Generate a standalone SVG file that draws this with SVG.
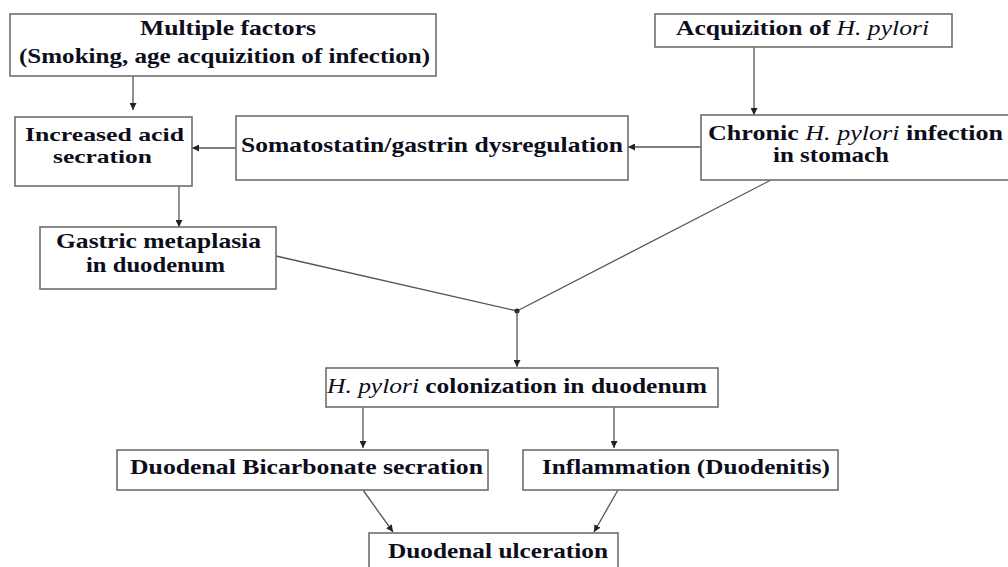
<svg xmlns="http://www.w3.org/2000/svg" width="1008" height="567" viewBox="0 0 1008 567">
<defs>
<marker id="ah" viewBox="0 0 8 8" refX="8" refY="4" markerWidth="7" markerHeight="7" markerUnits="userSpaceOnUse" orient="auto">
<path d="M0,0 L8,4 L0,8 Z" fill="#222"/>
</marker>
<style>
.box{fill:#fff;stroke:#6e6e6e;stroke-width:1.6}
.t{font-family:"Liberation Serif","Times New Roman",serif;font-size:21px;font-weight:bold;fill:#0d0d1c}
.s{font-size:19px}
.i{font-style:italic;font-weight:normal}
.c{fill:none;stroke:#555;stroke-width:1.3}
.ca{fill:none;stroke:#555;stroke-width:1.3;marker-end:url(#ah)}
</style>
</defs>
<rect width="1008" height="567" fill="#fff"/>
<g id="connectors">
<line class="ca" x1="133" y1="76" x2="133" y2="110"/>
<line class="ca" x1="236" y1="148" x2="192" y2="148"/>
<line class="ca" x1="754" y1="47" x2="754" y2="115"/>
<line class="ca" x1="701" y1="147" x2="628" y2="147"/>
<line class="ca" x1="179" y1="186" x2="179" y2="227"/>
<line class="c" x1="276" y1="256" x2="517" y2="311"/>
<line class="c" x1="771" y1="180" x2="517" y2="311"/>
<circle cx="517" cy="311" r="2.5" fill="#222"/>
<line class="ca" x1="517" y1="311" x2="517" y2="367"/>
<line class="ca" x1="363" y1="407" x2="363" y2="448"/>
<line class="ca" x1="614" y1="407" x2="614" y2="448"/>
<line class="ca" x1="363" y1="490" x2="393" y2="532"/>
<line class="ca" x1="618" y1="490" x2="594" y2="532"/>
</g>
<g id="multiple-factors">
<rect class="box" x="10" y="14" width="426" height="62"/>
<text class="t" x="140" y="35" textLength="176" lengthAdjust="spacingAndGlyphs">Multiple factors</text>
<text class="t" x="19" y="63" textLength="411" lengthAdjust="spacingAndGlyphs">(Smoking, age acquizition of infection)</text>
</g>
<g id="increased-acid">
<rect class="box" x="15" y="117" width="177" height="69"/>
<text class="t s" x="25" y="141" textLength="159" lengthAdjust="spacingAndGlyphs">Increased acid</text>
<text class="t s" x="53" y="163" textLength="99" lengthAdjust="spacingAndGlyphs">secration</text>
</g>
<g id="somatostatin">
<rect class="box" x="236" y="116" width="392" height="64"/>
<text class="t" x="241" y="152" textLength="382" lengthAdjust="spacingAndGlyphs">Somatostatin/gastrin dysregulation</text>
</g>
<g id="acquizition">
<rect class="box" x="655" y="14" width="297" height="33"/>
<text class="t" x="676" y="35" textLength="253" lengthAdjust="spacingAndGlyphs">Acquizition of <tspan class="i">H. pylori</tspan></text>
</g>
<g id="chronic">
<rect class="box" x="701" y="115" width="320" height="65"/>
<text class="t" x="708" y="140" textLength="295" lengthAdjust="spacingAndGlyphs">Chronic <tspan class="i">H. pylori</tspan> infection</text>
<text class="t" x="773" y="162" textLength="116" lengthAdjust="spacingAndGlyphs">in stomach</text>
</g>
<g id="gastric-metaplasia">
<rect class="box" x="40" y="227" width="236" height="62"/>
<text class="t" x="56" y="248" textLength="205" lengthAdjust="spacingAndGlyphs">Gastric metaplasia</text>
<text class="t" x="86" y="272" textLength="139" lengthAdjust="spacingAndGlyphs">in duodenum</text>
</g>
<g id="colonization">
<rect class="box" x="326" y="368" width="392" height="39"/>
<text class="t" x="327" y="393" textLength="380" lengthAdjust="spacingAndGlyphs"><tspan class="i">H. pylori</tspan> colonization in duodenum</text>
</g>
<g id="bicarbonate">
<rect class="box" x="117" y="450" width="371" height="40"/>
<text class="t" x="130" y="474" textLength="353" lengthAdjust="spacingAndGlyphs">Duodenal Bicarbonate secration</text>
</g>
<g id="inflammation">
<rect class="box" x="523" y="450" width="315" height="40"/>
<text class="t" x="542" y="474" textLength="288" lengthAdjust="spacingAndGlyphs">Inflammation (Duodenitis)</text>
</g>
<g id="ulceration">
<rect class="box" x="369" y="533" width="249" height="45"/>
<text class="t" x="388" y="558" textLength="220" lengthAdjust="spacingAndGlyphs">Duodenal ulceration</text>
</g>
</svg>
